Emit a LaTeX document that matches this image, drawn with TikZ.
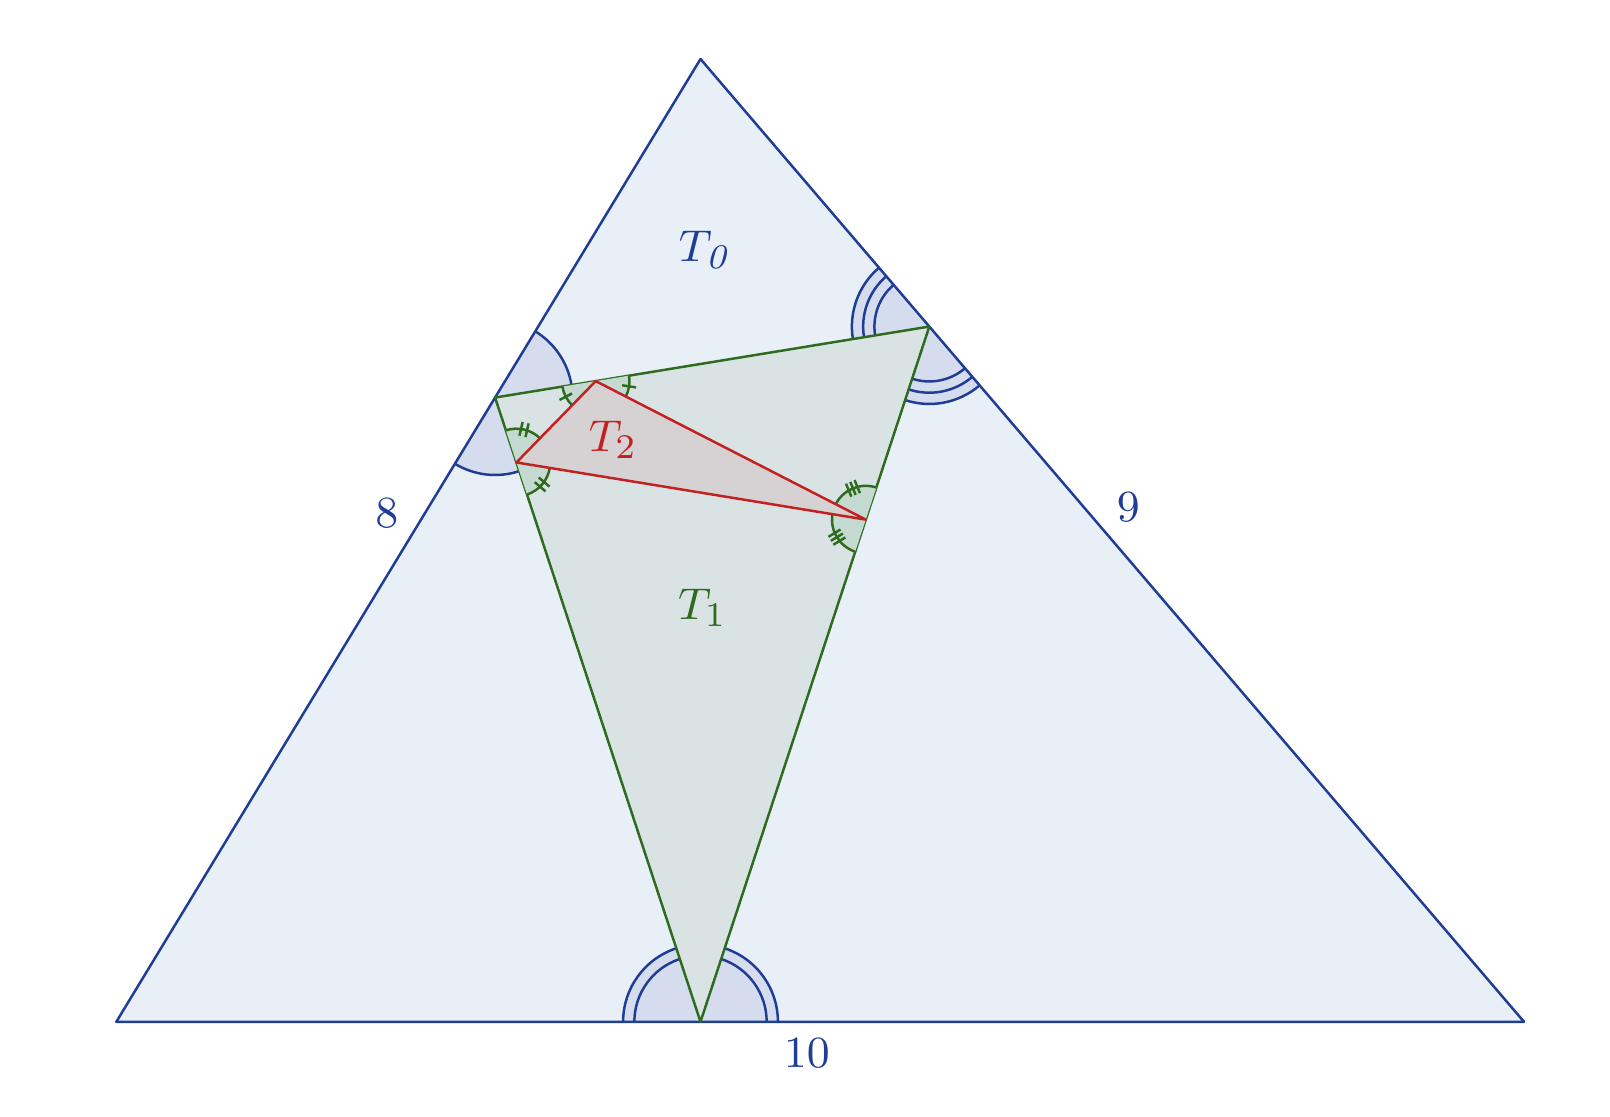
\documentclass[tikz,border=0pt]{standalone}
\usetikzlibrary{calc,angles}
\definecolor{bluel}{HTML}{1F3D96}
\definecolor{tzfill}{HTML}{E8EFF7}
\definecolor{angfill}{HTML}{D4DCED}
\definecolor{greenl}{HTML}{2E6B1F}
\definecolor{tofill}{HTML}{DAE3E4}
\definecolor{gangfill}{HTML}{C4D9D0}
\definecolor{redl}{HTML}{C42020}
\definecolor{ttfill}{HTML}{D6D2D4}
\newcommand{\mytick}[3]{\draw[tickst, shift={(#1)}, rotate=#2] (0.19,#3) -- (0.29,#3);}
\begin{document}
\begin{tikzpicture}[line join=round,
  bline/.style={draw=bluel, line width=0.5pt},
  gline/.style={draw=greenl, line width=0.5pt},
  rline/.style={draw=redl, line width=0.5pt},
  bsector/.style={fill=angfill, angle radius=0.55cm},
  barc/.style={draw=bluel, line width=0.5pt},
  gsector/.style={fill=gangfill, draw=greenl, line width=0.5pt, angle radius=0.24cm},
  tickst/.style={draw=greenl, line width=0.5pt},
  lab/.style={font=\fontsize{9.5}{11}\selectfont}]
\useasboundingbox (-0.8262,-0.6692) rectangle (10.6110,7.2587);
\coordinate (A) at (0,0);
\coordinate (B) at (10,0);
\coordinate (C) at (4.15,6.83941);
\coordinate (D) at ($(A)!(C)!(B)$);
\coordinate (E) at ($(A)!(B)!(C)$);
\coordinate (F) at ($(B)!(A)!(C)$);
\coordinate (G) at ($(D)!(F)!(E)$);
\coordinate (H) at ($(E)!(D)!(F)$);
\coordinate (I) at ($(D)!(E)!(F)$);
% T0
\fill[tzfill] (A) -- (B) -- (C) -- cycle;
% blue angle sectors
\pic[bsector] {angle=F--E--C};
\pic[bsector] {angle=A--E--D};
\pic[bsector] {angle=B--D--F};
\pic[bsector] {angle=E--D--A};
\pic[bsector] {angle=C--F--E};
\pic[bsector] {angle=D--F--B};
% arcs
\pic[barc, angle radius=0.55cm] {angle=F--E--C};
\pic[barc, angle radius=0.55cm] {angle=A--E--D};
\pic[barc, angle radius=0.55cm] {angle=B--D--F};
\pic[barc, angle radius=0.47cm] {angle=B--D--F};
\pic[barc, angle radius=0.55cm] {angle=E--D--A};
\pic[barc, angle radius=0.47cm] {angle=E--D--A};
\pic[barc, angle radius=0.55cm] {angle=C--F--E};
\pic[barc, angle radius=0.47cm] {angle=C--F--E};
\pic[barc, angle radius=0.39cm] {angle=C--F--E};
\pic[barc, angle radius=0.55cm] {angle=D--F--B};
\pic[barc, angle radius=0.47cm] {angle=D--F--B};
\pic[barc, angle radius=0.39cm] {angle=D--F--B};
\draw[bline] (A) -- (B) -- (C) -- cycle;
% T1
\filldraw[gline, fill=tofill] (D) -- (E) -- (F) -- cycle;
% inner sectors
\pic[gsector] {angle=H--G--E};
\pic[gsector] {angle=D--G--I};
\pic[gsector] {angle=E--H--G};
\pic[gsector] {angle=I--H--F};
\pic[gsector] {angle=F--I--H};
\pic[gsector] {angle=G--I--D};
% T2
\filldraw[rline, fill=ttfill] (G) -- (H) -- (I) -- cycle;
% ticks
\mytick{G}{76.98}{0.022}\mytick{G}{76.98}{-0.022}
\mytick{G}{319.47}{0.022}\mytick{G}{319.47}{-0.022}
\mytick{H}{207.52}{0}
\mytick{H}{351.08}{0}
\mytick{I}{112.33}{0.033}\mytick{I}{112.33}{0}\mytick{I}{112.33}{-0.033}
\mytick{I}{211.26}{0.033}\mytick{I}{211.26}{0}\mytick{I}{211.26}{-0.033}
% labels
\node[lab, text=bluel] (l0) at (4.19,5.481) {$T_{\mathit{0}}$};
\node[lab, text=greenl] (l1) at (4.165,2.938) {$T_1$};
\node[lab, text=redl] (l2) at (3.53,4.133) {$T_2$};
\node[lab, text=bluel] (s8) at (1.921,3.612) {$8$};
\node[lab, text=bluel] (s9) at (7.189,3.659) {$9$};
\node[lab, text=bluel] (s10) at (4.905,-0.224) {$10$};
\end{tikzpicture}
\end{document}
